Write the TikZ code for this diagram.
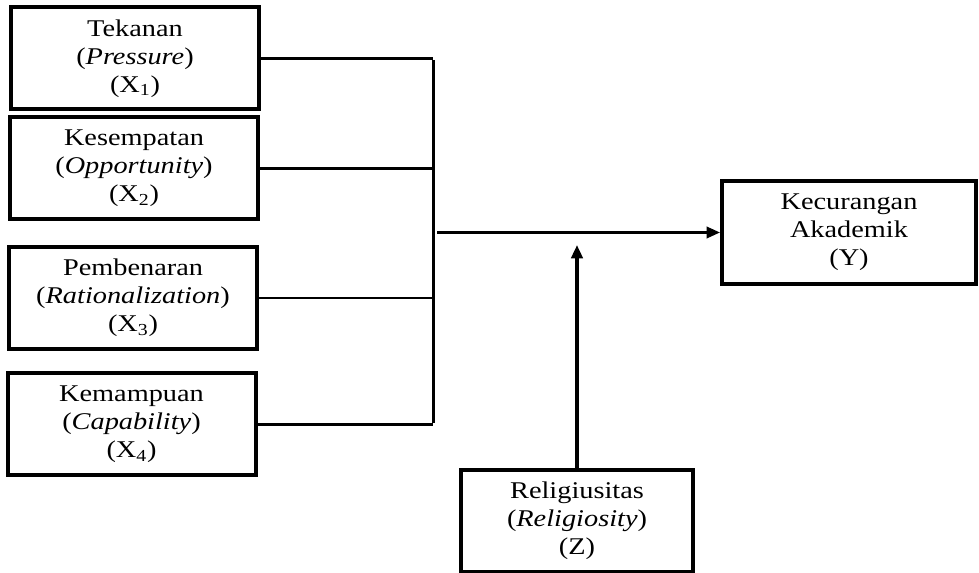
\documentclass[tikz,border=0pt]{standalone}
\usepackage{fontspec}
\setmainfont{Liberation Serif}[FakeStretch=1.18]
\usepackage{tikz}
\usetikzlibrary{arrows.meta}

\tikzset{
  varbox/.style={draw=black,line width=3pt,fill=white,align=center,
    minimum width=186pt,minimum height=76.5pt,inner sep=0pt,
    font=\fontsize{18pt}{21pt}\selectfont},
  link/.style={draw=black,line width=1.9pt},
  arr/.style={link,-{Triangle[length=10pt,width=8.5pt]}}
}

\begin{document}
\begin{tikzpicture}[x=0.75pt,y=-0.75pt]
\useasboundingbox (0,0) rectangle (979,573);
% independent variables
\node[varbox] (x1) at (135,58.5) {Tekanan\\(\textit{Pressure})\\(X\textsubscript{1})};
\node[varbox] (x2) at (134,168.5) {Kesempatan\\(\textit{Opportunity})\\(X\textsubscript{2})};
\node[varbox] (x3) at (133,298) {Pembenaran\\(\textit{Rationalization})\\(X\textsubscript{3})};
\node[varbox] (x4) at (131.5,424.5) {Kemampuan\\(\textit{Capability})\\(X\textsubscript{4})};
% dependent and moderating variables
\node[varbox,minimum width=190.5pt,minimum height=77pt] (y) at (849,232.5) {Kecurangan\\Akademik\\(Y)};
\node[varbox,minimum width=174pt] (z) at (577,521) {Religiusitas\\(\textit{Religiosity})\\(Z)};
% bus line
\coordinate (bus) at (433,0);
\coordinate (src) at (437,0);
\coordinate (mod) at (577,245);
\path[link] (x1.east) -- (x1.east -| bus);
\path[link] (x2.east) -- (x2.east -| bus);
\path[link] (x3.east) -- (x3.east -| bus);
\path[link] (x4.east) -- (x4.east -| bus);
\path[link,line width=2.25pt] ([yshift=-0.95pt]x1.east -| bus) -- ([yshift=0.95pt]x4.east -| bus);
\path[arr] (src |- y.west) -- (y.west);
\path[arr,line width=3pt] (z.north) -- (mod);
\end{tikzpicture}
\end{document}
